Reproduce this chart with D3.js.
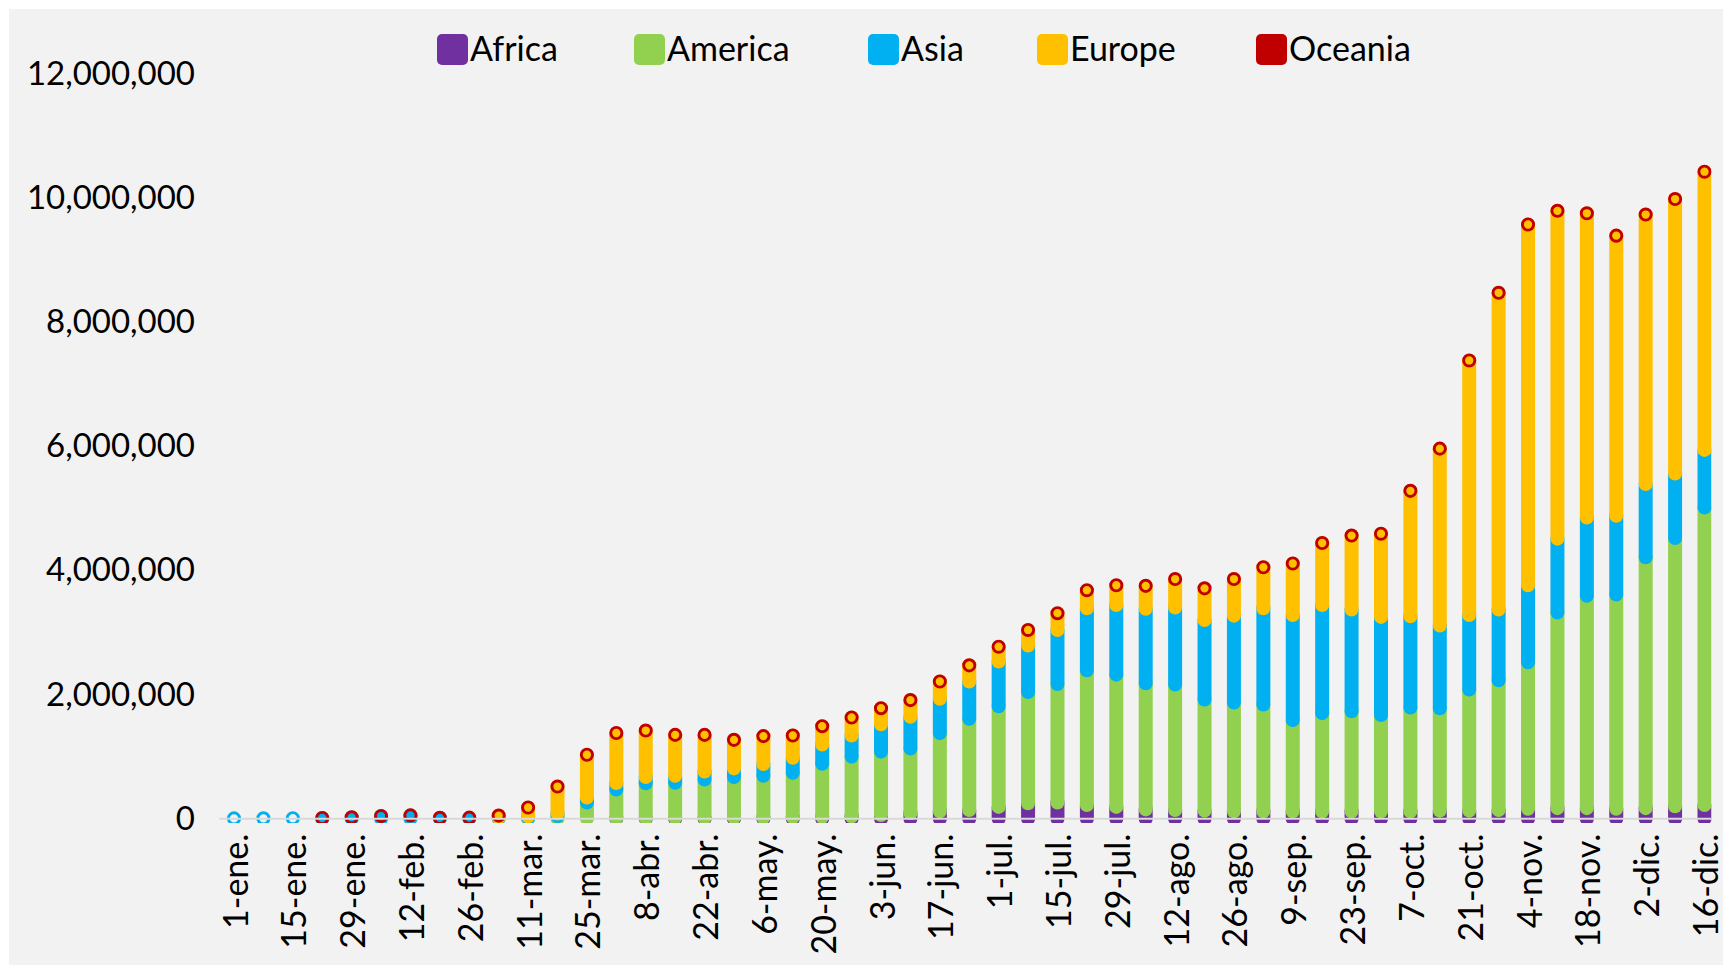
<!DOCTYPE html>
<html>
<head>
<meta charset="utf-8">
<script src="https://cdn.jsdelivr.net/npm/d3@7/dist/d3.min.js"></script>
<style>
  html, body { margin: 0; padding: 0; background: #ffffff; }
  svg { display: block; }
  text { font-family: Lato, "Open Sans", sans-serif; fill: #000; }
</style>
</head>
<body>
<svg id="chart" width="1723" height="965"></svg>
<script>
// ---------------- data ----------------
const categories = ["1-ene.","8-ene.","15-ene.","22-ene.","29-ene.","5-feb.","12-feb.","19-feb.","26-feb.","4-mar.","11-mar.","18-mar.","25-mar.","1-abr.","8-abr.","15-abr.","22-abr.","29-abr.","6-may.","13-may.","20-may.","27-may.","3-jun.","10-jun.","17-jun.","24-jun.","1-jul.","8-jul.","15-jul.","22-jul.","29-jul.","5-ago.","12-ago.","19-ago.","26-ago.","2-sep.","9-sep.","16-sep.","23-sep.","30-sep.","7-oct.","14-oct.","21-oct.","28-oct.","4-nov.","11-nov.","18-nov.","25-nov.","2-dic.","9-dic.","16-dic."];

const seriesNames = ["Africa", "America", "Asia", "Europe", "Oceania"];

const africa = [0,0,0,0,0,0,0,0,0,0,1000,3000,5000,10000,12000,14000,16000,18000,20000,25000,30000,40000,60000,90000,120000,140000,190000,250000,260000,220000,190000,150000,140000,130000,120000,120000,120000,120000,120000,120000,120000,130000,130000,140000,160000,170000,170000,160000,170000,200000,220000];
const america = [0,0,0,0,0,1000,1000,0,1000,4000,12000,40000,255000,460000,558000,566000,614000,652000,670000,715000,855000,960000,1020000,1040000,1260000,1470000,1620000,1790000,1910000,2170000,2130000,2030000,2020000,1790000,1750000,1720000,1470000,1580000,1610000,1550000,1670000,1650000,1950000,2090000,2360000,3150000,3420000,3450000,4040000,4320000,4790000];
const asia = [5000,6000,8000,10000,20000,40000,50000,12000,10000,20000,25000,40000,80000,105000,100000,110000,130000,140000,190000,240000,310000,340000,440000,510000,550000,600000,720000,750000,870000,1000000,1120000,1200000,1240000,1280000,1400000,1550000,1690000,1740000,1640000,1580000,1470000,1330000,1200000,1140000,1240000,1190000,1260000,1270000,1180000,1040000,930000];
const europe = [0,0,0,0,1000,1000,1000,1000,5000,25000,140000,430000,680000,795000,744000,656000,588000,459000,449000,359000,294000,289000,259000,268000,278000,257000,235000,240000,255000,270000,300000,355000,450000,505000,585000,657000,827000,997000,1187000,1337000,2017000,2847000,4097000,5097000,5807000,5277000,4897000,4507000,4337000,4417000,4477000];
const oceania = [0,0,0,1000,1000,1000,1000,1000,1000,1000,2000,5000,10000,10000,6000,4000,2000,1000,1000,1000,1000,1000,1000,2000,2000,3000,5000,10000,15000,20000,20000,15000,10000,5000,5000,3000,3000,3000,3000,3000,3000,3000,3000,3000,3000,3000,3000,3000,3000,3000,3000];

const yTicks = [0, 2000000, 4000000, 6000000, 8000000, 10000000, 12000000];
const colors = ["#7030a0", "#92d050", "#00b0f0", "#ffc000", "#c00000"];

// ---------------- layout ----------------
const W = 1723, H = 965;
const plot = { left: 219.3, right: 1719.2, top: 73.6, bottom: 818.7 };
const clipRight = 1711.5, clipBottom = 823;
const barW = 14;
const legendX = [437, 634, 868, 1037, 1256];

const svg = d3.select("#chart");

// background panel
svg.append("rect").attr("x", 9).attr("y", 9).attr("width", W - 9).attr("height", H - 9).attr("fill", "#f2f2f2");

const rows = categories.map((c, i) => ({
  cat: c, Africa: africa[i], America: america[i], Asia: asia[i], Europe: europe[i], Oceania: oceania[i]
}));
const stacked = d3.stack().keys(seriesNames)(rows);

const x = d3.scaleBand().domain(categories).range([plot.left, plot.right]).padding(0);
const y = d3.scaleLinear().domain([0, 12000000]).range([plot.bottom, plot.top]);
const color = d3.scaleOrdinal().domain(seriesNames).range(colors);
const cx = c => x(c) + x.bandwidth() / 2;

svg.append("clipPath").attr("id", "plotClip")
  .append("rect").attr("x", plot.left).attr("y", 0)
  .attr("width", clipRight - plot.left).attr("height", clipBottom);

const g = svg.append("g").attr("clip-path", "url(#plotClip)");

// stacked segments drawn as thick round-capped strokes
stacked.forEach(layer => {
  const segs = layer.filter(d => (y(d[0]) - y(d[1])) >= 0.5 && layer.key !== "Oceania");
  g.append("g").selectAll("line").data(segs).join("line")
    .attr("x1", d => cx(d.data.cat)).attr("x2", d => cx(d.data.cat))
    .attr("y1", d => y(d[0])).attr("y2", d => y(d[1]))
    .attr("stroke", color(layer.key))
    .attr("stroke-width", barW)
    .attr("stroke-linecap", "round");
});

// ring marker at top of each stack, colour of topmost non-zero series
const tops = rows.map(r => {
  let key = null;
  seriesNames.forEach(k => { if (r[k] > 0) key = k; });
  const total = d3.sum(seriesNames, k => r[k]);
  return { cat: r.cat, total, key };
}).filter(d => d.key);

g.append("g").selectAll("circle").data(tops).join("circle")
  .attr("cx", d => cx(d.cat)).attr("cy", d => y(d.total))
  .attr("r", 5.6)
  .attr("fill", "none")
  .attr("stroke", d => color(d.key))
  .attr("stroke-width", 2.9);

// baseline
svg.append("line")
  .attr("x1", plot.left).attr("x2", clipRight)
  .attr("y1", y(0)).attr("y2", y(0))
  .attr("stroke", "#d9d9d9").attr("stroke-width", 2);

// y axis
const yAxis = d3.axisLeft(y).tickValues(yTicks).tickFormat(d3.format(",")).tickSize(0).tickPadding(0);
const yg = svg.append("g").attr("transform", "translate(195,0)").call(yAxis);
yg.select(".domain").remove();
yg.selectAll("text").attr("font-size", 33).attr("font-family", "Lato, sans-serif").attr("fill", "#000");

// x axis labels (every other week)
const xTickVals = categories.filter((c, i) => i % 2 === 0);
const xAxis = d3.axisBottom(x).tickValues(xTickVals).tickSize(0).tickPadding(0);
const xg = svg.append("g").attr("transform", `translate(0,${y(0)})`).call(xAxis);
xg.select(".domain").remove();
xg.selectAll("text")
  .attr("font-size", 34).attr("font-family", "Lato, sans-serif").attr("fill", "#000")
  .attr("text-anchor", "end")
  .attr("dy", null)
  .attr("y", 0)
  .attr("dominant-baseline", "central")
  .attr("transform", "translate(0,15) rotate(-90)");

// legend
const leg = svg.append("g");
seriesNames.forEach((s, i) => {
  const item = leg.append("g").attr("transform", `translate(${legendX[i]},0)`);
  item.append("rect").attr("x", 0).attr("y", 34).attr("width", 31).attr("height", 31)
    .attr("rx", 5).attr("fill", colors[i]);
  item.append("text").attr("x", 33).attr("y", 61).attr("font-size", 34).text(s);
});
</script>
</body>
</html>
